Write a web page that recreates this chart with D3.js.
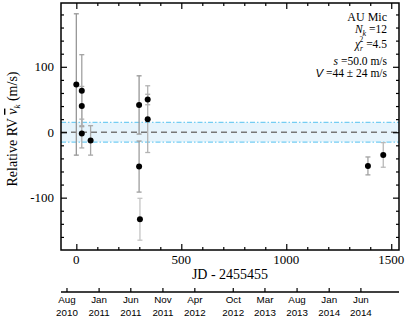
<!DOCTYPE html>
<html><head><meta charset="utf-8">
<script src="https://cdn.jsdelivr.net/npm/d3@7"></script>
<style>body{margin:0;background:#fff}svg{display:block}</style>
</head><body>
<svg id="c" width="407" height="326"></svg>
<script>
// ---- data ----
const jd      = [0, 26, 26, 26, 68, 299, 340, 340, 299, 303, 1389, 1462];
const rv      = [73, 63.5, 40, -2, -12.5, 41.7, 50, 20, -52.5, -133, -51.5, -34.7];
const rvErr   = [108, 55, 30, 22, 22.5, 44.5, 8, 51, 39, 32, 13.7, 18.8];
const weight  = [0.65, 0.55, 0.45, 0.45, 0.5, 0.65, 0.45, 0.4, 0.6, 0.25, 0.55, 0.35];
const bandHalf = 15;
const xTicksMajor = [0, 500, 1000, 1500];
const yTicksMajor = [-100, 0, 100];
const dateTicks = [[2010,7,"Aug"],[2011,0,"Jan"],[2011,5,"Jun"],[2011,10,"Nov"],[2012,3,"Apr"],
                   [2012,9,"Oct"],[2013,2,"Mar"],[2013,7,"Aug"],[2014,0,"Jan"],[2014,5,"Jun"]];
const star = "AU Mic", nK = 12, chi2 = "4.5", sVal = "50.0", vVal = 44, vErr = 24;
const jdZero = Date.UTC(2010, 8, 14, 12); // JD 2455455

// ---- layout ----
const L = 61, R = 399, T = 3, B = 250;
const svg = d3.select("#c");
const x = d3.scaleLinear().domain([-73, 1537]).range([L, R]);
const y = d3.scaleLinear().domain([-180, 197.5]).range([B, T]);
const serif = "'Liberation Serif','DejaVu Serif',serif";
const sans = "'Liberation Sans',Arial,sans-serif";
const shade = d3.scaleLinear().domain([0, 1]).range(["#e0e0e0", "#707070"]);

// band
svg.append("rect").attr("x", L).attr("width", R - L)
  .attr("y", y(bandHalf)).attr("height", y(-bandHalf) - y(bandHalf))
  .attr("fill", "#e6f4fc");
[bandHalf, -bandHalf].forEach(v => svg.append("line")
  .attr("x1", L).attr("x2", R).attr("y1", y(v)).attr("y2", y(v))
  .attr("stroke", "#74cdf3").attr("stroke-width", 1.2).attr("stroke-dasharray", "5,2,1.5,2"));
svg.append("line").attr("x1", L).attr("x2", R).attr("y1", y(0)).attr("y2", y(0))
  .attr("stroke", "#777").attr("stroke-width", 1.3).attr("stroke-dasharray", "6,4");

// error bars
const pts = jd.map((d, i) => ({x: d, y: rv[i], e: rvErr[i], w: weight[i]}));
const eb = svg.append("g").selectAll("g").data(pts).join("g")
  .attr("stroke", d => shade(d.w)).attr("stroke-width", 1.3);
eb.append("line").attr("x1", d => x(d.x)).attr("x2", d => x(d.x))
  .attr("y1", d => y(d.y + d.e)).attr("y2", d => y(d.y - d.e));
eb.append("line").attr("x1", d => x(d.x) - 2.5).attr("x2", d => x(d.x) + 2.5)
  .attr("y1", d => y(d.y + d.e)).attr("y2", d => y(d.y + d.e));
eb.append("line").attr("x1", d => x(d.x) - 2.5).attr("x2", d => x(d.x) + 2.5)
  .attr("y1", d => y(d.y - d.e)).attr("y2", d => y(d.y - d.e));
svg.append("g").selectAll("circle").data(pts).join("circle")
  .attr("cx", d => x(d.x)).attr("cy", d => y(d.y)).attr("r", 3).attr("fill", "#000");

// axes (ticks inward)
function ax(gen, tx, ty) { return svg.append("g").attr("transform", `translate(${tx},${ty})`).call(gen); }
const xMinor = d3.range(0, 1501, 100).filter(v => !xTicksMajor.includes(v));
const yMinor = d3.range(-160, 181, 20).filter(v => !yTicksMajor.includes(v));
const styleAx = g => { g.select(".domain").remove(); g.selectAll("line").attr("stroke", "#000").attr("stroke-width", 1.2); g.selectAll("text").remove(); };
ax(d3.axisBottom(x).tickValues(xTicksMajor).tickSize(-6), 0, B).call(styleAx);
ax(d3.axisBottom(x).tickValues(xMinor).tickSize(-3), 0, B).call(styleAx);
ax(d3.axisTop(x).tickValues(xTicksMajor).tickSize(-6), 0, T).call(styleAx);
ax(d3.axisTop(x).tickValues(xMinor).tickSize(-3), 0, T).call(styleAx);
ax(d3.axisLeft(y).tickValues(yTicksMajor).tickSize(-6), L, 0).call(styleAx);
ax(d3.axisLeft(y).tickValues(yMinor).tickSize(-3), L, 0).call(styleAx);
ax(d3.axisRight(y).tickValues(yTicksMajor).tickSize(-6), R, 0).call(styleAx);
ax(d3.axisRight(y).tickValues(yMinor).tickSize(-3), R, 0).call(styleAx);
svg.append("rect").attr("x", L).attr("y", T).attr("width", R - L).attr("height", B - T)
  .attr("fill", "none").attr("stroke", "#000").attr("stroke-width", 1.5);

// tick labels
svg.append("g").selectAll("text").data(xTicksMajor).join("text")
  .attr("x", d => x(d)).attr("y", 264).attr("text-anchor", "middle")
  .attr("font-family", serif).attr("font-size", 13).text(d => d);
svg.append("g").selectAll("text").data(yTicksMajor).join("text")
  .attr("x", 54).attr("y", d => y(d) + 4.5).attr("text-anchor", "end")
  .attr("font-family", serif).attr("font-size", 13).text(d => d);

// titles
svg.append("text").attr("x", 230).attr("y", 279).attr("text-anchor", "middle")
  .attr("font-family", serif).attr("font-size", 14).text("JD - 2455455");
const yt = svg.append("text").attr("transform", "translate(17,129) rotate(-90)")
  .attr("text-anchor", "middle").attr("font-family", serif).attr("font-size", 14);
yt.append("tspan").text("Relative RV  ");
yt.append("tspan").attr("font-style", "italic").attr("text-decoration", "overline").text("v");
yt.append("tspan").attr("font-style", "italic").attr("font-size", 9).attr("dy", 3).text("k");
yt.append("tspan").attr("dy", -3).text(" (m/s)");

// annotation
const ann = svg.append("g").attr("font-family", serif).attr("font-size", 11.5).attr("text-anchor", "end");
ann.append("text").attr("x", 387).attr("y", 20.5).attr("font-size", 12).text(star);
const t1 = ann.append("text").attr("x", 387).attr("y", 33);
t1.append("tspan").attr("font-style", "italic").text("N");
t1.append("tspan").attr("font-style", "italic").attr("font-size", 8).attr("dy", 3).text("k");
t1.append("tspan").attr("dy", -3).text(" =" + nK);
const t2 = ann.append("text").attr("x", 387).attr("y", 48);
t2.append("tspan").attr("font-style", "italic").text("χ");
t2.append("tspan").attr("font-style", "italic").attr("font-size", 7.5).attr("dy", 2.5).text("r");
t2.append("tspan").attr("font-size", 7.5).attr("dx", -3.5).attr("dy", -8.5).text("2");
t2.append("tspan").attr("dy", 6).text(" =" + chi2);
const t3 = ann.append("text").attr("x", 387).attr("y", 64.5);
t3.append("tspan").attr("font-style", "italic").text("s");
t3.append("tspan").text(" =" + sVal + " m/s");
const t4 = ann.append("text").attr("x", 387).attr("y", 77);
t4.append("tspan").attr("font-style", "italic").attr("font-family", sans).text("V");
t4.append("tspan").text(" =" + vVal + " \u00b1 " + vErr + " m/s");

// date axis
const dY = 292;
svg.append("line").attr("x1", L).attr("x2", R).attr("y1", dY).attr("y2", dY).attr("stroke", "#000").attr("stroke-width", 1.3);
const dts = dateTicks.map(d => ({jd: (Date.UTC(d[0], d[1], 1) - jdZero) / 86400000, m: d[2], yr: d[0]}));
const dg = svg.append("g").selectAll("g").data(dts).join("g").attr("transform", d => `translate(${x(d.jd)},${dY})`);
dg.append("line").attr("y1", 0).attr("y2", -4).attr("stroke", "#000").attr("stroke-width", 1.2);
dg.append("text").attr("y", 11).attr("text-anchor", "middle").attr("font-family", sans).attr("font-size", 9.8).text(d => d.m);
dg.append("text").attr("y", 24).attr("text-anchor", "middle").attr("font-family", sans).attr("font-size", 9.8).text(d => d.yr);
</script>
</body></html>
